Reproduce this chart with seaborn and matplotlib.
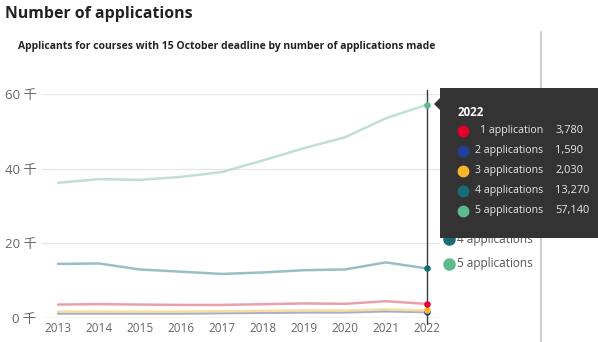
import matplotlib
matplotlib.use("Agg")
import matplotlib.pyplot as plt
import seaborn as sns
import pandas as pd
from matplotlib.patches import Polygon
from matplotlib.lines import Line2D

years = [2013, 2014, 2015, 2016, 2017, 2018, 2019, 2020, 2021, 2022]
series_names = ["1 application", "2 applications", "3 applications", "4 applications", "5 applications"]
app1 = [3.6, 3.7, 3.6, 3.5, 3.5, 3.7, 3.9, 3.8, 4.5, 3.78]
app2 = [1.2, 1.2, 1.2, 1.2, 1.3, 1.4, 1.5, 1.5, 1.8, 1.59]
app3 = [1.7, 1.7, 1.7, 1.7, 1.8, 1.9, 2.0, 2.0, 2.3, 2.03]
app4 = [14.5, 14.6, 13.0, 12.4, 11.8, 12.2, 12.8, 13.0, 14.9, 13.27]
app5 = [36.2, 37.2, 37.0, 37.8, 39.1, 42.2, 45.5, 48.4, 53.5, 57.14]
tooltip_values = ["3,780", "1,590", "2,030", "13,270", "57,140"]
y_ticks = [0, 20, 40, 60]
y_tick_labels = ["0 千", "20 千", "40 千", "60 千"]

colors = ["#e4002b", "#243f9b", "#f8b72a", "#176d76", "#5fb98e"]
faded = ["#e9a0ad", "#a5afcc", "#f8dca0", "#98bfc4", "#bfe0d0"]

rows = []
for name, vals in zip(series_names, [app1, app2, app3, app4, app5]):
    for y, v in zip(years, vals):
        rows.append({"year": y, "value": v, "series": name})
df = pd.DataFrame(rows)

sns.set_theme(style="white")
plt.rcParams["font.family"] = ["Open Sans", "Noto Sans CJK SC", "DejaVu Sans"]

fig = plt.figure(figsize=(5.98, 3.42), dpi=100)
ax = fig.add_axes([42/598, 1-318/342, (440-42)/598, (318-94)/342])

sns.lineplot(data=df, x="year", y="value", hue="series", palette=dict(zip(series_names, faded)),
             linewidth=1.8, ax=ax, legend=False, clip_on=False)
ax.set_xlim(2012.61, 2022.32)
ax.set_ylim(0, 60)
ax.set_yticks(y_ticks)
ax.set_yticklabels(y_tick_labels, fontsize=9.5, color="#666666")
ax.set_xticks(years)
ax.set_xticklabels([str(y) for y in years], fontsize=8.5, color="#666666")
ax.tick_params(axis="both", length=0, pad=3)
ax.tick_params(axis="y", pad=4)
ax.yaxis.grid(True, color="#e6e6e6", linewidth=0.9)
ax.set_axisbelow(True)
for s in ax.spines.values():
    s.set_visible(False)
ax.axhline(0, color="#dddddd", linewidth=1, zorder=0.5)
ax.set_xlabel("")
ax.set_ylabel("")

# crosshair
ax.plot([2022, 2022], [-1.5, 61], color="#3a3a3a", linewidth=1, clip_on=False, zorder=3)
last = [app1[-1], app2[-1], app3[-1], app4[-1], app5[-1]]
order = [1, 2, 0, 3, 4]
for i in order:
    ax.scatter([years[-1]], [last[i]], s=22, color=colors[i], zorder=4, clip_on=False, linewidths=0)

# partially hidden legend
fig.text(457/598, 1-264/342, "5 applications", fontsize=8.5, color="#555555", va="center", ha="left")
fig.text(457/598, 1-240/342, "4 applications", fontsize=8.5, color="#555555", va="center", ha="left")
fig.add_artist(Line2D([449/598], [1-239/342], marker="o", markersize=8, color=colors[3], transform=fig.transFigure))
fig.add_artist(Line2D([449/598], [1-264/342], marker="o", markersize=8, color=colors[4], transform=fig.transFigure))

# divider
fig.add_artist(Line2D([541/598, 541/598], [1-32/342, 0], color="#d0d0d0", linewidth=1.5, transform=fig.transFigure))

# tooltip
tip = Polygon([(440/598, 1-88/342), (600/598, 1-88/342), (600/598, 1-238/342), (440/598, 1-238/342),
               (440/598, 1-110/342), (434/598, 1-104/342), (440/598, 1-98/342)],
              closed=True, transform=fig.transFigure, facecolor="#333333", edgecolor="none", zorder=10)
fig.add_artist(tip)
fig.text(458/598, 1-112/342, "2022", fontsize=8.3, fontweight="bold", color="white", va="center", zorder=11)
for k, (name, val) in enumerate(zip(series_names, tooltip_values)):
    yy = 1-(131 + 20*k)/342
    fig.add_artist(Line2D([463/598], [yy], marker="o", markersize=7.5, color=colors[k], linewidth=0,
                          transform=fig.transFigure, zorder=11))
    fig.text(543/598, yy, name, fontsize=7.6, color="#e8e8e8", va="center", ha="right", zorder=11)
    fig.text(555/598, yy, val, fontsize=7.9, color="#e8e8e8", va="center", ha="left", zorder=11)

fig.text(5/598, 1-14/342, "Number of applications", fontsize=11.4, fontweight="bold", color="#222222", va="center")
fig.text(18/598, 1-46/342, "Applicants for courses with 15 October deadline by number of applications made",
         fontsize=7.5, fontweight="bold", color="#222222", va="center")

fig.savefig("out.png", dpi=100)
